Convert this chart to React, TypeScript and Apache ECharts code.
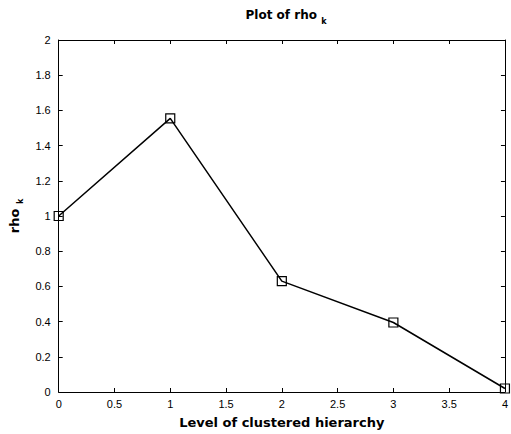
import React, { useEffect, useRef } from "react";
import * as echarts from "echarts";

const levels = [0, 1, 2, 3, 4];
const rhoValues = [1.0, 1.555, 0.63, 0.395, 0.02];
const xTicks = [0, 0.5, 1, 1.5, 2, 2.5, 3, 3.5, 4];
const yTicks = [0, 0.2, 0.4, 0.6, 0.8, 1, 1.2, 1.4, 1.6, 1.8, 2];

export default function App() {
  const ref = useRef<HTMLDivElement>(null);
  useEffect(() => {
    if (!ref.current) return;
    const chart = echarts.init(ref.current, null, { renderer: "svg" });
    const font = "Liberation Sans, Arial, sans-serif";
    const boldFont = "DejaVu Sans, Verdana, sans-serif";
    const tickStyle = { show: true, inside: true, length: 4, lineStyle: { color: "#000", width: 1 } };
    const axisLine = { show: true, onZero: false, lineStyle: { color: "#000", width: 1 } };
    chart.setOption({
      animation: false,
      backgroundColor: "#fff",
      title: {
        text: "{a|Plot of rho }{b|k}",
        left: 281,
        textAlign: "center",
        top: 0,
        textStyle: {
          rich: {
            a: { fontFamily: boldFont, fontWeight: "bold", fontSize: 12, color: "#000" },
            b: { fontFamily: boldFont, fontWeight: "bold", fontSize: 8, color: "#000", padding: [12, 0, 0, 0] },
          },
        },
      },
      grid: { left: 57, right: 6, top: 40, bottom: 42 },
      xAxis: [
        {
          type: "value",
          min: 0,
          max: 4,
          interval: 0.5,
          position: "bottom",
          axisLine,
          axisTick: tickStyle,
          splitLine: { show: false },
          axisLabel: {
            color: "#000",
            fontFamily: font,
            fontSize: 11,
            margin: 6,
            formatter: (v: number) => (xTicks.includes(v) ? String(v) : ""),
          },
          name: "Level of clustered hierarchy",
          nameLocation: "middle",
          nameGap: 24,
          nameTextStyle: { fontFamily: boldFont, fontWeight: "bold", fontSize: 13, color: "#000" },
        },
        {
          type: "value",
          min: 0,
          max: 4,
          interval: 0.5,
          position: "top",
          axisLine,
          axisTick: tickStyle,
          splitLine: { show: false },
          axisLabel: { show: false },
        },
      ],
      yAxis: [
        {
          type: "value",
          min: 0,
          max: 2,
          interval: 0.2,
          position: "left",
          axisLine,
          axisTick: tickStyle,
          splitLine: { show: false },
          axisLabel: {
            color: "#000",
            fontFamily: font,
            fontSize: 11,
            margin: 8,
            formatter: (v: number) => {
              const r = Math.round(v * 10) / 10;
              return yTicks.includes(r) ? String(r) : "";
            },
          },
          name: "{a|rho }{b|k}",
          nameLocation: "middle",
          nameGap: 30,
          nameTextStyle: {
            rich: {
              a: { fontFamily: boldFont, fontWeight: "bold", fontSize: 13, color: "#000" },
              b: { fontFamily: boldFont, fontWeight: "bold", fontSize: 8, color: "#000", padding: [12, 0, 0, 0] },
            },
          },
        },
        {
          type: "value",
          min: 0,
          max: 2,
          interval: 0.2,
          position: "right",
          axisLine,
          axisTick: tickStyle,
          splitLine: { show: false },
          axisLabel: { show: false },
        },
      ],
      series: [
        {
          type: "line",
          xAxisIndex: 0,
          yAxisIndex: 0,
          data: levels.map((x, i) => [x, rhoValues[i]]),
          symbol: "rect",
          symbolSize: 9,
          showAllSymbol: true,
          lineStyle: { color: "#000", width: 1.5 },
          itemStyle: { color: "rgba(0,0,0,0)", borderColor: "#000", borderWidth: 1.2 },
          clip: false,
        },
      ],
    });
    return () => chart.dispose();
  }, []);
  return <div ref={ref} style={{ width: 511, height: 434, position: "absolute", left: 0, top: 0 }} />;
}
